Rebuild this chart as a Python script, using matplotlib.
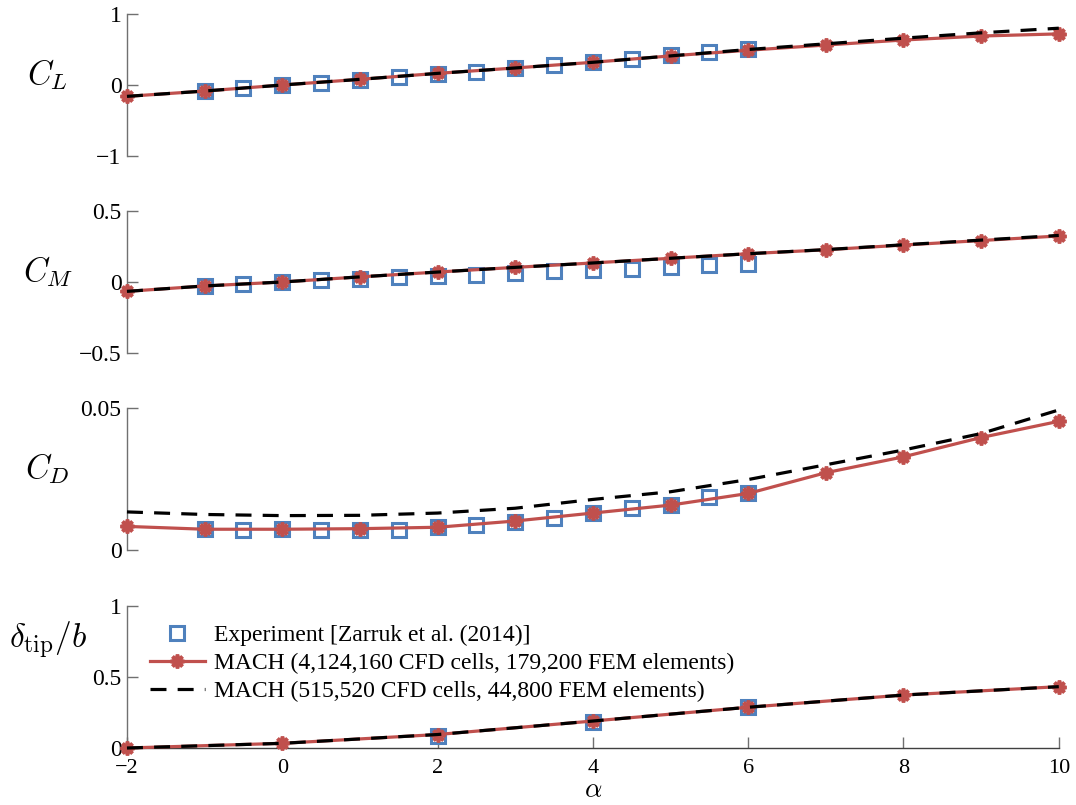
import matplotlib
matplotlib.use("Agg")
import matplotlib.pyplot as plt

# ---------------- data ----------------
alpha_cfd = [-2, -1, 0, 1, 2, 3, 4, 5, 6, 7, 8, 9, 10]
alpha_exp = [-1, -0.5, 0, 0.5, 1, 1.5, 2, 2.5, 3, 3.5, 4, 4.5, 5, 5.5, 6]

CL_fine = [-0.16, -0.085, 0.0, 0.08, 0.164, 0.24, 0.32, 0.41, 0.49, 0.563, 0.634, 0.69, 0.72]
CL_coarse = [-0.16, -0.085, 0.0, 0.08, 0.164, 0.24, 0.32, 0.41, 0.50, 0.58, 0.66, 0.735, 0.80]
CL_exp = [-0.08, -0.045, 0.0, 0.03, 0.07, 0.115, 0.155, 0.19, 0.235, 0.28, 0.32, 0.37, 0.42, 0.465, 0.51]

CM_fine = [-0.066, -0.028, 0.0, 0.036, 0.07, 0.103, 0.134, 0.167, 0.199, 0.227, 0.26, 0.292, 0.324]
CM_coarse = [-0.066, -0.028, 0.0, 0.036, 0.07, 0.103, 0.134, 0.167, 0.199, 0.228, 0.262, 0.295, 0.328]
CM_exp = [-0.026, -0.014, 0.0, 0.012, 0.023, 0.033, 0.042, 0.052, 0.063, 0.075, 0.087, 0.094, 0.106, 0.117, 0.127]

CD_fine = [0.0083, 0.0073, 0.0073, 0.0075, 0.0080, 0.0102, 0.0130, 0.0158, 0.0199, 0.0272, 0.0328, 0.0396, 0.0453]
CD_coarse = [0.0134, 0.0125, 0.0121, 0.0122, 0.0130, 0.0147, 0.0178, 0.0205, 0.0248, 0.0300, 0.0352, 0.0410, 0.0493]
CD_exp = [0.0073, 0.0071, 0.0073, 0.0071, 0.0069, 0.0072, 0.0080, 0.0089, 0.0100, 0.0112, 0.0130, 0.0147, 0.0160, 0.0188, 0.0202]

alpha_tip = [-2, 0, 2, 4, 6, 8, 10]
tip_fine = [0.0, 0.033, 0.095, 0.19, 0.287, 0.373, 0.432]
tip_coarse = [0.0, 0.033, 0.095, 0.19, 0.287, 0.373, 0.432]
alpha_tip_exp = [2, 4, 6]
tip_exp = [0.085, 0.185, 0.29]

labels = ["Experiment [Zarruk et al. (2014)]",
          "MACH (4,124,160 CFD cells, 179,200 FEM elements)",
          "MACH (515,520 CFD cells, 44,800 FEM elements)"]

ylabels = [r"$C_L$", r"$C_M$", r"$C_D$", r"$\delta_{\rm tip}/b$"]
yticks = [[-1, 0, 1], [-0.5, 0, 0.5], [0, 0.05], [0, 0.5, 1]]
yticklabels = [["\u22121", "0", "1"], ["\u22120.5", "0", "0.5"], ["0", "0.05"], ["0", "0.5", "1"]]
ylims = [(-1, 1), (-0.5, 0.5), (0, 0.05), (0, 1)]
xticks = [-2, 0, 2, 4, 6, 8, 10]
xticklabels = ["\u22122", "0", "2", "4", "6", "8", "10"]

# ---------------- style ----------------
plt.rcParams['font.family'] = ['Liberation Serif', 'DejaVu Serif']
plt.rcParams['mathtext.fontset'] = 'cm'

RED = '#c0504d'
BLUE = '#4f81bd'
GRAY = '#707070'

fig = plt.figure(figsize=(10.76, 8.05), dpi=100)
left, width, height = 0.118, 0.866, 0.1764
bottoms = [0.8062, 0.5615, 0.3168, 0.0708]
axes = [fig.add_axes([left, b, width, height]) for b in bottoms]

panels = [
    (alpha_exp, CL_exp, alpha_cfd, CL_fine, alpha_cfd, CL_coarse),
    (alpha_exp, CM_exp, alpha_cfd, CM_fine, alpha_cfd, CM_coarse),
    (alpha_exp, CD_exp, alpha_cfd, CD_fine, alpha_cfd, CD_coarse),
    (alpha_tip_exp, tip_exp, alpha_tip, tip_fine, alpha_tip, tip_coarse),
]

label_y = [0.57, 0.57, 0.57, 0.76]

for i, (ax, (xe, ye, xf, yf, xc, yc)) in enumerate(zip(axes, panels)):
    h1, = ax.plot(xe, ye, linestyle='none', marker='s', markersize=9.5,
                  markerfacecolor='none', markeredgecolor=BLUE,
                  markeredgewidth=2.2, clip_on=False, zorder=2, label=labels[0])
    h2, = ax.plot(xf, yf, color=RED, linewidth=2.3, marker=(8, 2, 0),
                  markersize=10, markeredgewidth=2.6, markeredgecolor=RED,
                  clip_on=False, zorder=3, label=labels[1])
    h3, = ax.plot(xc, yc, color='black', linewidth=2.3, linestyle=(0, (5, 3.5)),
                  clip_on=False, zorder=4, label=labels[2])
    ax.set_xlim(-2, 10)
    ax.set_ylim(*ylims[i])
    ax.set_yticks(yticks[i])
    ax.set_yticklabels(yticklabels[i])
    for s in ['top', 'right']:
        ax.spines[s].set_visible(False)
    ax.spines['left'].set_color(GRAY)
    ax.spines['left'].set_linewidth(1.0)
    ax.tick_params(axis='y', direction='in', length=8, width=1.0, color=GRAY,
                   labelsize=17, pad=4)
    if i < 3:
        ax.spines['bottom'].set_visible(False)
        ax.set_xticks([])
    else:
        ax.spines['bottom'].set_color('#404040')
        ax.spines['bottom'].set_linewidth(1.0)
        ax.set_xticks(xticks)
        ax.set_xticklabels(xticklabels)
        ax.tick_params(axis='x', direction='in', length=8, width=1.0, color=GRAY,
                       labelsize=16, pad=8)
        ax.set_xlabel(r"$\alpha$", fontsize=19.5, labelpad=0)
    ax.patch.set_alpha(0)
    ax.text(-0.085, label_y[i], ylabels[i], transform=ax.transAxes,
            fontsize=24, ha='center', va='center')

axes[3].legend(handles=[h1, h2, h3], loc='upper left',
               bbox_to_anchor=(0.025, 0.87), frameon=False, fontsize=17,
               borderpad=0, borderaxespad=0, handlelength=2.3,
               handletextpad=0.4, labelspacing=0.28)

fig.savefig("out.png", dpi=100)
